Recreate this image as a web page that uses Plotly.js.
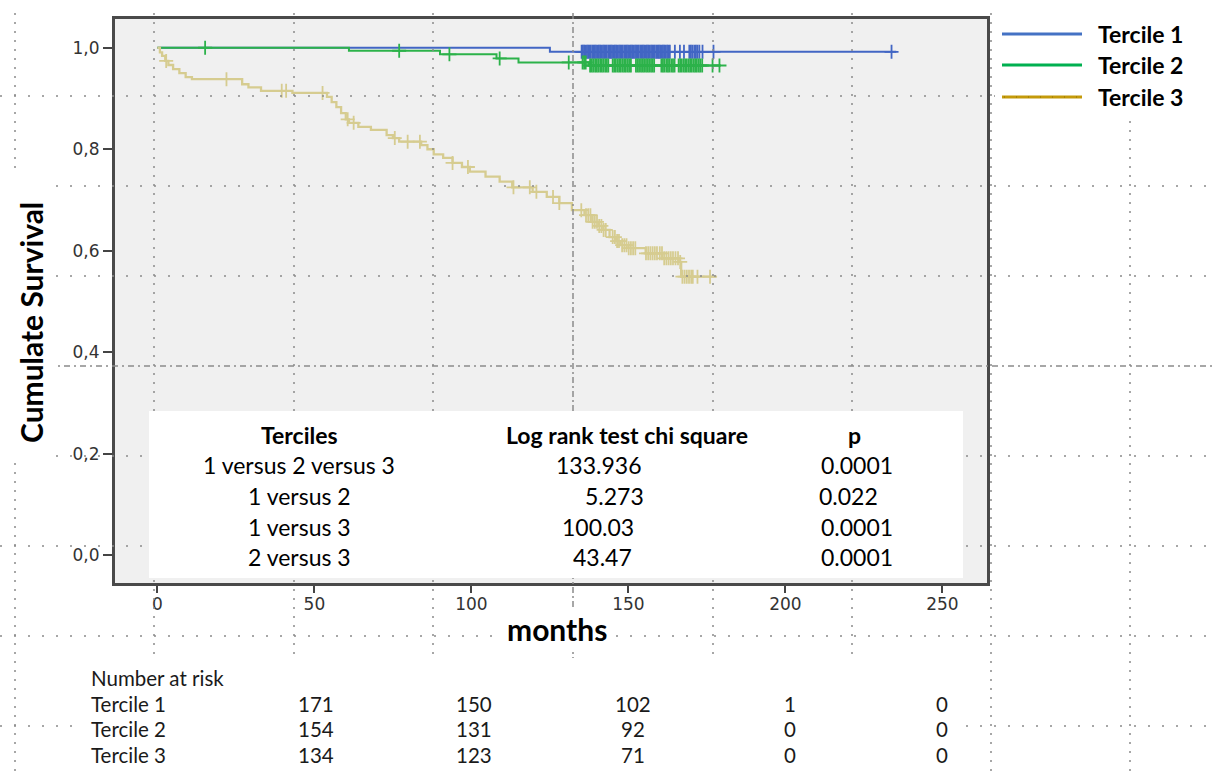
<!DOCTYPE html>
<html>
<head>
<meta charset="utf-8">
<script src="https://cdn.plot.ly/plotly-3.0.1.min.js"></script>
<style>html,body{margin:0;padding:0;background:#fff;} #chart{width:1213px;height:777px;}</style>
</head>
<body>
<div id="chart"></div>
<script>
// ---------- DATA ----------
const seriesNames = ['Tercile 1', 'Tercile 2', 'Tercile 3'];
const xTitle = 'months';
const yTitle = 'Cumulate Survival';

// Kaplan-Meier step points (months, cumulative survival)
const t1Times = [0, 125, 235.3];
const t1Surv  = [1.0, 0.992, 0.992];

const t2Times = [0, 61, 90, 108, 115, 137.5, 179.5];
const t2Surv  = [1.0, 0.994, 0.987, 0.979, 0.971, 0.965, 0.965];

const t3Times = [0, 0.8, 1.5, 2.5, 3.5, 5, 7, 9, 11, 27, 29, 33, 43, 54, 55.5, 57, 58.5, 60, 61, 64, 68, 73, 75, 77, 84, 86, 88, 91, 94, 97, 99.5, 104.5, 109, 113, 119.5, 124, 128, 132, 136, 138.5, 140.5, 142, 144, 146, 147.5, 150, 155.5, 160.8, 166, 166.8, 178];
const t3Surv  = [1.0, 0.991, 0.984, 0.974, 0.966, 0.958, 0.950, 0.942, 0.938, 0.928, 0.922, 0.915, 0.911, 0.903, 0.893, 0.883, 0.871, 0.859, 0.852, 0.844, 0.838, 0.828, 0.822, 0.815, 0.808, 0.800, 0.790, 0.783, 0.773, 0.765, 0.756, 0.746, 0.736, 0.725, 0.716, 0.706, 0.694, 0.680, 0.670, 0.657, 0.649, 0.641, 0.627, 0.619, 0.611, 0.605, 0.595, 0.585, 0.578, 0.549, 0.549];

// censored observation times (months)
const t1Censored = [135.1,135.5,135.9,136.3,136.8,137.2,137.6,138,138.5,138.9,139.3,139.7,140.2,140.6,141,141.4,141.9,142.3,142.7,143.1,143.6,144,144.4,144.8,145.3,145.7,146.1,146.5,147,147.4,147.8,148.2,148.7,149.1,149.5,149.9,150.4,150.8,151.2,151.6,152.1,152.5,152.9,153.3,153.8,154.2,154.6,155,155.5,155.9,156.3,156.7,157.2,157.6,158,158.4,158.9,159.3,159.7,160.1,160.6,161,161.4,161.8,162.3,162.7,163.2,164.8,166.4,167.7,169.4,169.9,170.4,171,171.5,172,172.6,173.6,177.1,233.8];
const t2Censored = [15.2,77,93,109,131,135.4,135.9,136.4,137.8,138.3,138.8,139.4,139.9,140.4,141,141.5,142,142.6,143.1,143.6,145,145.5,146,146.6,147.1,147.6,148.2,148.7,149.2,149.8,150.3,150.8,152.4,152.9,153.4,154,154.5,155,155.6,156.1,156.6,157.2,157.7,158.2,160.5,161,161.5,162.1,162.6,163.1,163.7,164.2,164.7,166,166.5,167,167.6,168.1,168.6,169.2,169.7,170.2,170.8,171.3,171.8,172.4,172.9,173.5,176.8,179];
const t3Censored = [2.8,22,39.6,41,52.6,60.6,62.5,75.6,79.7,83.6,94,98.9,113.4,118.6,120.7,126,128,135,136.5,137.2,137.9,138.6,139.3,140,140.7,141.4,142.1,142.8,145,145.7,146.4,147,148,148.7,149.4,150.1,150.8,151.5,152.2,155.6,156.3,157,157.7,158.4,159.1,160,160.7,161.4,162.1,162.8,163.5,164.2,165,165.8,166.5,167.2,167.9,168.6,169.3,170,170.5,172,176];

// axis ticks
const xTickVals = [0, 50, 100, 150, 200, 250];
const yTickVals = [0, 0.2, 0.4, 0.6, 0.8, 1.0];
const yTickText = ['0,0', '0,2', '0,4', '0,6', '0,8', '1,0'];

// log-rank table
const tableHeader = ['Terciles', 'Log rank test chi square', 'p'];
const tableComparisons = ['1 versus 2 versus 3', '1 versus 2', '1 versus 3', '2 versus 3'];
const tableChiSquare = ['133.936', '5.273', '100.03', '43.47'];
const tablePValues = ['0.0001', '0.022', '0.0001', '0.0001'];

// number at risk
const riskTitle = 'Number at risk';
const riskT1 = [171, 150, 102, 1, 0];
const riskT2 = [154, 131, 92, 0, 0];
const riskT3 = [134, 123, 71, 0, 0];

// ---------- STYLE / LAYOUT ----------
const colors = ['#4266c4', '#2cb24a', '#d6cc90'];
const legendColors = ['#4472c4', '#00b050', '#c49a0a'];
const W = 1213, H = 777, L = 115, R = 987, T = 19, B = 583;
const px = x => (x - L) / (R - L);
const py = y => (B - y) / (B - T);

function survAt(times, surv, t) {
  let v = surv[0];
  for (let i = 0; i < times.length; i++) { if (times[i] <= t) v = surv[i]; }
  return v;
}

const curveData = [[t1Times, t1Surv, t1Censored], [t2Times, t2Surv, t2Censored], [t3Times, t3Surv, t3Censored]];
const traces = [];
curveData.forEach((c, i) => {
  traces.push({
    type: 'scatter', mode: 'lines', x: c[0], y: c[1], name: seriesNames[i],
    line: {shape: 'hv', color: colors[i], width: i === 2 ? 2.3 : 2}, showlegend: false, hoverinfo: 'skip'
  });
  traces.push({
    type: 'scatter', mode: 'markers', x: c[2], y: c[2].map(t => survAt(c[0], c[1], t)),
    name: seriesNames[i] + ' censored',
    marker: {symbol: 'cross-thin-open', size: 10, color: colors[i], line: {color: colors[i], width: 1.8}},
    showlegend: false, hoverinfo: 'skip'
  });
});

const shapes = [];
// background slide grid (dotted)
const gridXs = [15, 154, 294, 433, 573, 713, 852, 991, 1130];
const gridYs = [96, 186, 276, 366, 456, 546, 636, 726];
gridXs.forEach(x => shapes.push({type: 'line', xref: 'paper', yref: 'paper', layer: 'above',
  x0: px(x), x1: px(x), y0: py(13), y1: py(H),
  line: {color: '#8a8a8a', width: 1.5, dash: x === 573 ? '6px,3px,2px,3px' : '2px,7px'}}));
gridYs.forEach(y => shapes.push({type: 'line', xref: 'paper', yref: 'paper', layer: 'above',
  x0: px(0), x1: px(W), y0: py(y), y1: py(y),
  line: {color: '#8a8a8a', width: 1.5, dash: y === 366 ? '6px,4px,2px,4px' : '2px,12px'}}));
// white boxes that hide the grid
const boxes = [[0, 172, 55, 462], [149, 411, 963, 578], [80, 658, 963, H], [995, 0, W, 118], [500, 610, 612, 652]];
boxes.forEach(b => shapes.push({type: 'rect', xref: 'paper', yref: 'paper', layer: 'above',
  x0: px(b[0]), x1: px(b[2]), y0: py(b[3]), y1: py(b[1]), fillcolor: '#ffffff', line: {width: 0}}));
// legend lines
const legY = [34, 65, 97];
legY.forEach((y, i) => shapes.push({type: 'line', xref: 'paper', yref: 'paper', layer: 'above',
  x0: px(1002), x1: px(1082), y0: py(y), y1: py(y), line: {color: legendColors[i], width: 3}}));
shapes.push({type: 'line', xref: 'paper', yref: 'paper', layer: 'above',
  x0: px(1004), x1: px(1082), y0: py(97), y1: py(97), line: {color: '#8c6d00', width: 1.2, dash: '1px,11px'}});

const annotations = [];
const ann = (text, x, y, opts) => annotations.push(Object.assign({
  text: text, xref: 'paper', yref: 'paper', x: px(x), y: py(y), showarrow: false,
  xanchor: 'center', yanchor: 'middle', font: {family: 'Lato', size: 23, color: '#000'}}, opts || {}));

// axis titles
const titleFont = {family: 'Lato', size: 30, color: '#000', weight: 'bold'};
ann(yTitle, 31, 323, {textangle: -90, font: titleFont});
ann(xTitle, 557, 629, {font: titleFont});

// legend labels
seriesNames.forEach((n, i) => ann(n, 1096, legY[i], {xanchor: 'left', font: {family: 'Lato', size: 23, color: '#000', weight: 'bold'}}));

// table
const colX = [299, 627, 854];
tableHeader.forEach((h, j) => ann(h, colX[j], 435, {font: {family: 'Lato', size: 23, color: '#000', weight: 'bold'}}));
const rowY = [465, 496, 527, 557];
const chiX = [598, 614, 598, 602];
const pX = [857, 848, 857, 857];
tableComparisons.forEach((c, r) => {
  ann(c, colX[0], rowY[r]);
  ann(tableChiSquare[r], chiX[r], rowY[r]);
  ann(tablePValues[r], pX[r], rowY[r]);
});

// number at risk
const riskX = [316, 474, 633, 790, 942];
const riskFont = {family: 'Lato', size: 20.5, color: '#1a1a1a'};
ann(riskTitle, 89, 678, {xanchor: 'left', font: riskFont});
[riskT1, riskT2, riskT3].forEach((row, r) => {
  const y = 704 + r * 25.5;
  ann(seriesNames[r], 89, y, {xanchor: 'left', font: riskFont});
  row.forEach((v, k) => ann(String(v), riskX[k], y, {font: riskFont}));
});

const layout = {
  width: W, height: H,
  margin: {l: L, r: W - R, t: T, b: H - B, pad: 0},
  paper_bgcolor: '#ffffff', plot_bgcolor: '#f0f0f0',
  showlegend: false,
  xaxis: {
    range: [-13.5, 264.2], tickvals: xTickVals, ticks: 'outside', ticklen: 7, tickwidth: 2, tickcolor: '#444',
    ticklabelstandoff: -3,
    showgrid: false, zeroline: false, showline: true, mirror: true, linecolor: '#4a4a4a', linewidth: 3,
    tickfont: {family: 'DejaVu Sans', size: 17, color: '#333'}
  },
  yaxis: {
    range: [-0.0546, 1.0566], tickvals: yTickVals, ticktext: yTickText, ticks: 'outside', ticklen: 9, tickwidth: 2, tickcolor: '#444',
    showgrid: false, zeroline: false, showline: true, mirror: true, linecolor: '#4a4a4a', linewidth: 3,
    tickfont: {family: 'DejaVu Sans', size: 17, color: '#333'}
  },
  shapes: shapes,
  annotations: annotations
};

Plotly.newPlot('chart', traces, layout, {displayModeBar: false, staticPlot: true});
</script>
</body>
</html>
